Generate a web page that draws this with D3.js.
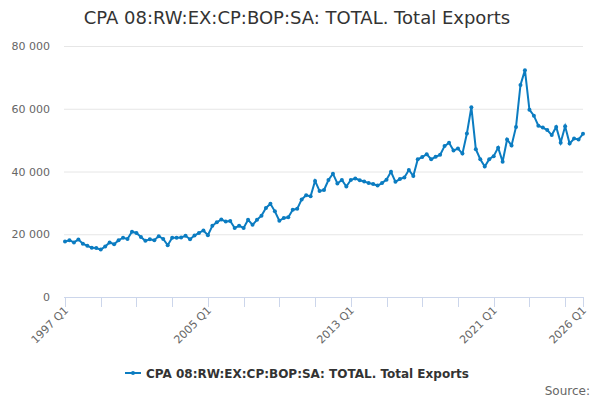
<!DOCTYPE html><html><head><meta charset="utf-8"><script src="https://cdn.jsdelivr.net/npm/d3@7"></script>
<style>body{margin:0;background:#fff}text{font-family:"DejaVu Sans",sans-serif}</style></head><body><svg id="c" width="600" height="400"></svg>
<script>
const title="CPA 08:RW:EX:CP:BOP:SA: TOTAL. Total Exports";
const values=[17700,18100,17400,18300,17000,16300,15700,15600,15100,16100,17400,16800,18100,18900,18500,20800,20400,19100,17900,18400,18100,19400,18500,16500,18900,18900,19000,19500,18400,19600,
20400,21200,19700,22700,23800,24700,24100,24200,22000,22700,22000,24600,23000,24600,25900,28400,29700,27300,24300,25200,25400,27800,28100,31100,32400,32100,37000,33800,34100,37300,39300,36200,37300,35200,37300,37800,37200,36800,
36300,36000,35500,36300,37400,39900,36700,37600,38100,40500,38600,43900,44600,45500,43900,44700,45300,48100,49200,46700,47300,45700,52100,60500,47100,43900,41600,43900,44900,47600,43100,50200,48300,54200,67600,72300,59700,57800,54600,54000,53200,51600,54200,49200,54400,48900,50500,50200,52000];
const startYear=1997;
const categories=values.map((d,i)=>`${startYear+Math.floor(i/4)} Q${i%4+1}`);
const yTicks=[0,20000,40000,60000,80000];
const labelIdx=[0,32,64,96,116];
const tickIdx=d3.range(0,116,8).concat([116]);
const svg=d3.select("#c");
const x=d3.scaleLinear().domain([0,116]).range([65,583]);
const y=d3.scaleLinear().domain([0,80000]).range([297,46]);
const col="#0b7cc1";
svg.append("text").attr("x",297).attr("y",24).attr("text-anchor","middle").attr("font-size",18).attr("fill","#333").text(title);
svg.append("g").selectAll("line").data(yTicks.slice(1)).join("line").attr("x1",64).attr("x2",583).attr("y1",d=>y(d)+.5).attr("y2",d=>y(d)+.5).attr("stroke","#e6e6e6");
svg.append("g").selectAll("text").data(yTicks).join("text").attr("x",50).attr("y",d=>y(d)+4).attr("text-anchor","end").attr("font-size",11).attr("fill","#666").text(d=>d3.format(",")(d).replace(/,/g," "));
svg.append("line").attr("x1",64).attr("x2",584).attr("y1",297.5).attr("y2",297.5).attr("stroke","#ccd6eb");
svg.append("g").selectAll("line").data(tickIdx).join("line").attr("x1",d=>Math.round(x(d))+.5).attr("x2",d=>Math.round(x(d))+.5).attr("y1",297).attr("y2",307).attr("stroke","#ccd6eb");
svg.append("g").selectAll("text").data(labelIdx).join("text").attr("transform",d=>`translate(${x(d)+4},${311}) rotate(-45)`).attr("text-anchor","end").attr("font-size",11).attr("fill","#666").text(d=>categories[d]);
svg.append("path").datum(values).attr("fill","none").attr("stroke",col).attr("stroke-width",2).attr("d",d3.line().x((d,i)=>x(i)).y(d=>y(d)));
svg.append("g").selectAll("circle").data(values).join("circle").attr("cx",(d,i)=>x(i)).attr("cy",d=>y(d)).attr("r",2).attr("fill",col);
svg.append("line").attr("x1",125).attr("x2",141).attr("y1",373).attr("y2",373).attr("stroke",col).attr("stroke-width",2);
svg.append("circle").attr("cx",133).attr("cy",373).attr("r",2).attr("fill",col);
svg.append("text").attr("x",146).attr("y",378).attr("font-size",12).attr("font-weight","bold").attr("fill","#333").text(title);
svg.append("text").attr("x",590).attr("y",395).attr("text-anchor","end").attr("font-size",12).attr("fill","#666").text("Source:");
</script></body></html>
